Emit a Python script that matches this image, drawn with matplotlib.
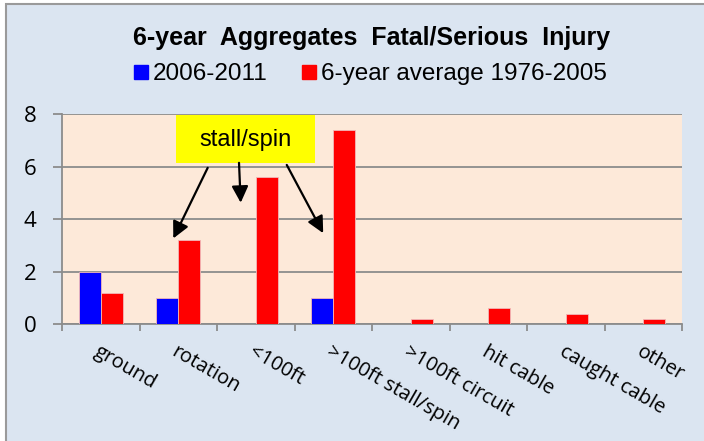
import matplotlib
matplotlib.use('Agg')
import matplotlib.pyplot as plt
from matplotlib.patches import Rectangle
from matplotlib.lines import Line2D
import matplotlib.transforms as mtransforms
import numpy as np

categories = ['ground', 'rotation', '<100ft', '>100ft stall/spin', '>100ft circuit',
              'hit cable', 'caught cable', 'other']
recent = [2, 1, 0, 1, 0, 0, 0, 0]
average = [1.2, 3.2, 5.6, 7.4, 0.2, 0.6, 0.4, 0.2]
yticks = [0, 2, 4, 6, 8]
series_labels = ['2006-2011', '6-year average 1976-2005']
title = '6-year  Aggregates  Fatal/Serious  Injury'
note = 'stall/spin'

W, H = 704, 441
fig = plt.figure(figsize=(W / 100, H / 100), dpi=100, facecolor='white')
bg = Rectangle((6 / W, -0.02), 1.0, 1 - 4 / H + 0.02, transform=fig.transFigure,
               facecolor='#DBE5F1', edgecolor='#9A9A9A', linewidth=1.5, zorder=-10)
fig.patches.append(bg)

ax = fig.add_axes([62 / W, 1 - 324 / H, 620 / W, 210 / H])
ax.set_zorder(1)
ax.set_facecolor('#FDE9D9')
x = np.arange(len(categories))
w = 0.284
ax.bar(x - w / 2, recent, w, color='#0000FF', edgecolor='#F2B8B8', linewidth=0.6, zorder=3)
ax.bar(x + w / 2, average, w, color='#FF0000', edgecolor='#F2B8B8', linewidth=0.6, zorder=3)
ax.set_xlim(-0.5, len(categories) - 0.5)
ax.set_ylim(0, 8)
ax.set_yticks(yticks)
ax.yaxis.grid(True, color='#8C8C8C', linewidth=1.3, zorder=1)
ax.set_axisbelow(True)
for s in ['top', 'right']:
    ax.spines[s].set_visible(False)
for s in ['left', 'bottom']:
    ax.spines[s].set_color('#8C8C8C')
    ax.spines[s].set_linewidth(1.3)

tick_font = 'Open Sans'
ax.tick_params(axis='y', length=6.5, width=1.3, color='#8C8C8C', pad=12, labelsize=16)
for lab in ax.get_yticklabels():
    lab.set_fontfamily(tick_font)

ax.set_xticks(np.arange(-0.5, len(categories), 1))
ax.set_xticklabels([])
ax.tick_params(axis='x', which='major', length=5, width=1.3, color='#8C8C8C')
ax.set_xticks(x, minor=True)
ax.set_xticklabels(categories, minor=True)
ax.tick_params(axis='x', which='minor', length=0, pad=0, labelsize=14.5)
offset = mtransforms.ScaledTranslation(0 / 72, -13 / 72, fig.dpi_scale_trans)
for lab in ax.get_xticklabels(minor=True):
    lab.set_rotation(-30)
    lab.set_rotation_mode('anchor')
    lab.set_ha('left')
    lab.set_va('top')
    lab.set_fontfamily(tick_font)
    lab.set_transform(lab.get_transform() + offset)

# annotation box and arrows
ax.add_patch(Rectangle((0.971, 6.14), 1.794, 1.82, facecolor='#FFFF00', edgecolor='none', zorder=4))
ax.text(1.868, 7.0, note, ha='center', va='center', fontsize=17,
        family='Liberation Sans', zorder=5)
arrows = [((1.38, 5.95), (0.936, 3.26)),
          ((1.784, 6.14), (1.806, 4.62)),
          ((2.40, 6.06), (2.87, 3.46))]
for start, end in arrows:
    ax.annotate('', xy=end, xytext=start,
                arrowprops=dict(arrowstyle='-|>,head_length=0.5,head_width=0.25',
                                mutation_scale=20, color='black', lw=1.6,
                                shrinkA=0, shrinkB=0), zorder=5)

fig.text(372 / W, 1 - 38 / H, title, ha='center', va='center', fontsize=18,
         fontweight='bold', family='Liberation Sans')

handles = [Line2D([], [], marker='s', linestyle='none', color='#0000FF', markersize=9.5),
           Line2D([], [], marker='s', linestyle='none', color='#FF0000', markersize=9.5)]
fig.legend(handles, series_labels, loc='center', bbox_to_anchor=(368 / W, 1 - 74 / H),
           ncol=2, frameon=False, handletextpad=0.0, columnspacing=1.2,
           handlelength=1.0, prop={'family': 'Liberation Sans', 'size': 17.5})

fig.savefig('out.png', dpi=100, facecolor='white')
